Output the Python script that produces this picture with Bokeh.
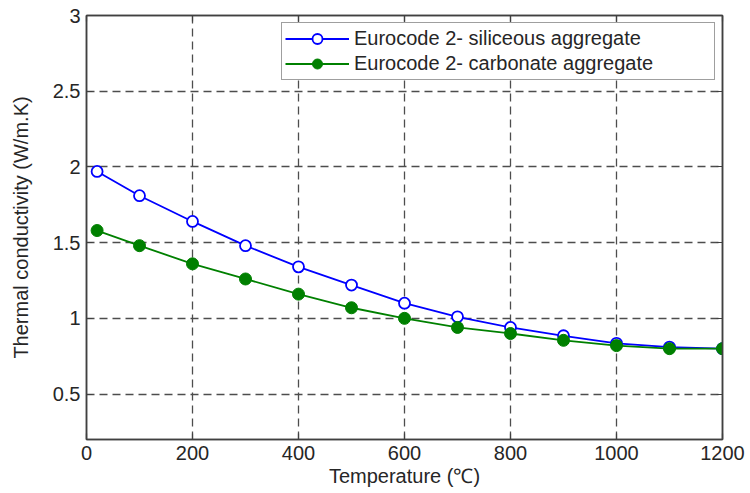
from bokeh.plotting import figure
from bokeh.models import FixedTicker, LinearAxis, Range1d, Legend, LegendItem
from bokeh.embed import file_html
from bokeh.resources import INLINE

# Data
temperature = [20, 100, 200, 300, 400, 500, 600, 700, 800, 900, 1000, 1100, 1200]
siliceous = [1.97, 1.81, 1.64, 1.48, 1.34, 1.22, 1.10, 1.01, 0.94, 0.885, 0.835, 0.81, 0.80]
carbonate = [1.58, 1.48, 1.36, 1.26, 1.16, 1.07, 1.00, 0.94, 0.90, 0.855, 0.82, 0.80, 0.80]

x_ticks = [0, 200, 400, 600, 800, 1000, 1200]
y_ticks = [0.5, 1, 1.5, 2, 2.5, 3]

FONT = "Liberation Sans"
TEXT = "#262626"
AXIS = "#404040"

p = figure(width=750, height=493, x_range=Range1d(0, 1200), y_range=Range1d(0.2, 3),
           output_backend="svg", toolbar_location=None,
           min_border_left=86, min_border_right=28, min_border_top=15, min_border_bottom=54)

p.background_fill_color = "white"
p.border_fill_color = "white"
p.outline_line_color = AXIS
p.outline_line_width = 1.5

# grid
p.xgrid.ticker = FixedTicker(ticks=x_ticks)
p.ygrid.ticker = FixedTicker(ticks=y_ticks)
for g in (p.xgrid, p.ygrid):
    g.grid_line_color = "#4d4d4d"
    g.grid_line_width = 1.3
    g.grid_line_dash = "8 5"

def style_axis(ax, ticks, show_labels=True):
    ax.ticker = FixedTicker(ticks=ticks)
    ax.axis_line_color = AXIS
    ax.axis_line_width = 1.5
    ax.major_tick_line_color = AXIS
    ax.major_tick_line_width = 1.2
    ax.major_tick_in = 6
    ax.major_tick_out = 0
    ax.minor_tick_line_color = None
    ax.major_label_text_font = FONT
    ax.axis_label_text_font = FONT
    ax.axis_label_text_color = TEXT
    ax.axis_label_text_font_style = "normal"
    ax.axis_label_text_font_size = "20px"
    if show_labels:
        ax.major_label_text_font_size = "20px"
        ax.major_label_text_color = TEXT
    else:
        # tick marks only (MATLAB-style box); labels are not drawn
        ax.major_label_text_font_size = "10px"
        ax.major_label_text_color = None
        ax.major_label_standoff = 0

style_axis(p.xaxis[0], x_ticks)
style_axis(p.yaxis[0], y_ticks)
p.xaxis[0].axis_label = "Temperature (℃)"
p.xaxis[0].major_label_standoff = 6
p.xaxis[0].axis_label_standoff = 2
p.yaxis[0].axis_label = "Thermal conductivity (W/m.K)"
p.yaxis[0].major_label_standoff = 6
p.yaxis[0].axis_label_standoff = 18

top_axis = LinearAxis()
style_axis(top_axis, x_ticks, show_labels=False)
p.add_layout(top_axis, "above")
right_axis = LinearAxis()
style_axis(right_axis, y_ticks, show_labels=False)
p.add_layout(right_axis, "right")

# series
l1 = p.line(temperature, siliceous, line_color="#0000ff", line_width=1.8)
s1 = p.scatter(temperature, siliceous, marker="circle", size=11,
               line_color="#0000ff", line_width=1.8, fill_color="white")
l2 = p.line(temperature, carbonate, line_color="#008000", line_width=1.8)
s2 = p.scatter(temperature, carbonate, marker="circle", size=12,
               line_color="#008000", line_width=1, fill_color="#008000")

legend = Legend(items=[
    LegendItem(label="Eurocode 2- siliceous aggregate", renderers=[l1, s1]),
    LegendItem(label="Eurocode 2- carbonate aggregate", renderers=[l2, s2]),
], location="top_right")
legend.margin = 7
legend.padding = 3
legend.spacing = 0
legend.glyph_width = 64
legend.glyph_height = 25
legend.label_height = 25
legend.label_standoff = 5
legend.label_width = 357
legend.label_text_font = FONT
legend.label_text_font_size = "20px"
legend.label_text_color = TEXT
legend.border_line_color = AXIS
legend.border_line_width = 1.5
legend.background_fill_color = "white"
legend.background_fill_alpha = 1
p.add_layout(legend)

open("out.html", "w").write(file_html(p, INLINE))
